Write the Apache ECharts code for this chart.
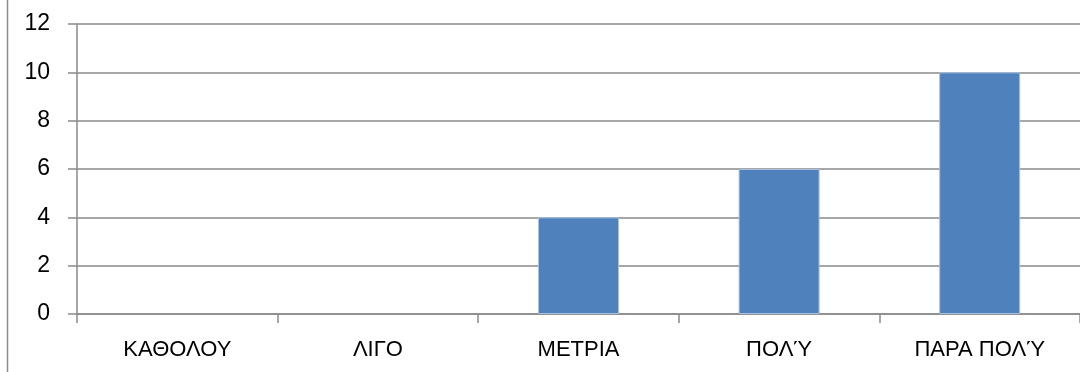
<!DOCTYPE html>
<html>
<head>
<meta charset="utf-8">
<script src="https://cdn.jsdelivr.net/npm/echarts@6/dist/echarts.min.js"></script>
<style>
  html, body { margin: 0; padding: 0; background: #fff; }
  #chart { width: 1080px; height: 372px; }
</style>
</head>
<body>
<div id="chart"></div>
<script>
// Answer categories and counts
const categories = ['ΚΑΘΟΛΟΥ', 'ΛΙΓΟ', 'ΜΕΤΡΙΑ', 'ΠΟΛΎ', 'ΠΑΡΑ ΠΟΛΎ'];
const counts = [0, 0, 4, 6, 10];
const yTicks = { min: 0, max: 12, interval: 2 };

const font = '"Liberation Sans", "DejaVu Sans", sans-serif';
const chart = echarts.init(document.getElementById('chart'), null, { renderer: 'canvas' });

// zero-height bars get no outline so nothing shows on the baseline
const barData = counts.map(v => ({
  value: v,
  itemStyle: { borderWidth: v === 0 ? 0 : 1 }
}));

chart.setOption({
  animation: false,
  backgroundColor: '#ffffff',
  graphic: [{
    type: 'line',
    shape: { x1: 7.5, y1: 0, x2: 7.5, y2: 372 },
    style: { stroke: '#8c8c8c', lineWidth: 1.5 }
  }],
  grid: { left: 77, top: 24, width: 1008, height: 290, containLabel: false },
  xAxis: {
    type: 'category',
    data: categories,
    boundaryGap: true,
    axisLine: { show: true, lineStyle: { color: '#8a8a8a', width: 1.5 } },
    axisTick: { show: true, length: 9, alignWithLabel: false, lineStyle: { color: '#8a8a8a', width: 1.5 } },
    axisLabel: { color: '#000', fontSize: 22, fontFamily: font, margin: 25 },
    splitLine: { show: false }
  },
  yAxis: {
    type: 'value',
    min: yTicks.min, max: yTicks.max, interval: yTicks.interval,
    axisLine: { show: true, lineStyle: { color: '#8a8a8a', width: 1.5 } },
    axisTick: { show: true, length: 9, lineStyle: { color: '#8a8a8a', width: 1.5 } },
    axisLabel: { color: '#000', fontSize: 23, fontFamily: font, margin: 27 },
    splitLine: { show: true, lineStyle: { color: '#8a8a8a', width: 1.5 } }
  },
  series: [{
    type: 'bar',
    data: barData,
    barWidth: 81,
    itemStyle: { color: '#4f81bd', borderColor: '#a9c1e0', borderWidth: 1 }
  }]
});
</script>
</body>
</html>
